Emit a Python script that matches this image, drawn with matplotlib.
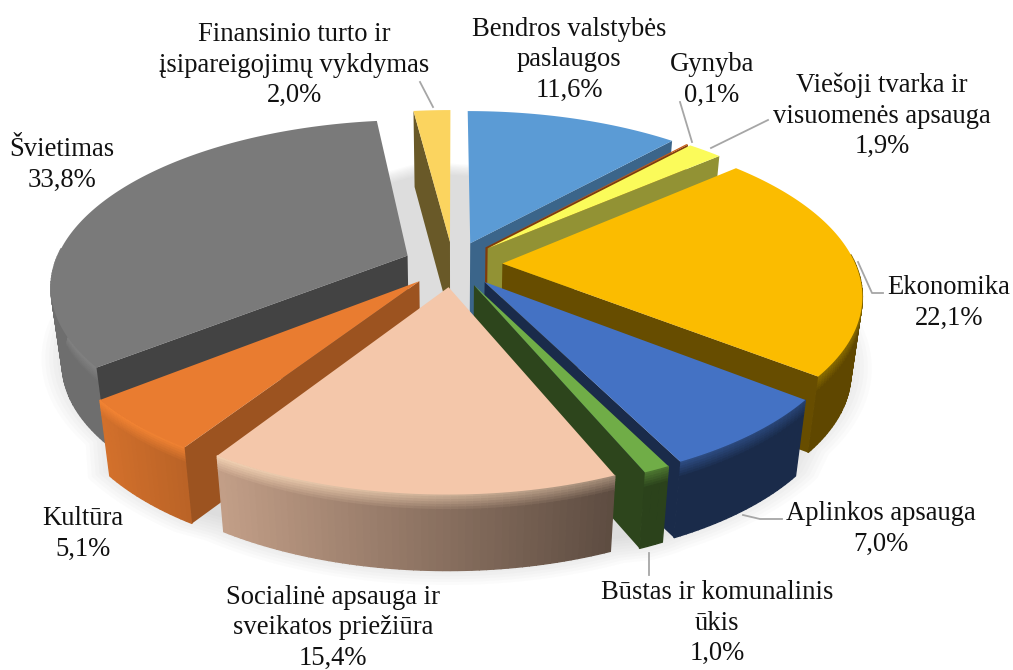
import numpy as np
import matplotlib
matplotlib.use('Agg')
import matplotlib.pyplot as plt
from matplotlib.colors import to_rgb
from matplotlib.patches import Polygon

labels = ['Bendros valstybės\npaslaugos', 'Gynyba', 'Viešoji tvarka ir\nvisuomenės apsauga', 'Ekonomika',
          'Aplinkos apsauga', 'Būstas ir komunalinis\nūkis', 'Socialinė apsauga ir\nsveikatos priežiūra',
          'Kultūra', 'Švietimas', 'Finansinio turto ir\nįsipareigojimų vykdymas']
values = [11.6, 0.1, 1.9, 22.1, 7.0, 1.0, 15.4, 5.1, 33.8, 2.0]
colors = ['#5b9bd5', '#c55a11', '#fbfb5a', '#fbbc00', '#4472c4', '#70ad47', '#f4c7aa', '#e97c30', '#7a7a7a', '#fbd45f']
wall_shade = [0.65, 0.65, 0.58, 0.41, 0.38, 0.40, 0.60, 0.67, 0.55, 0.42]
label_xy = [(569, 60), (712, 80), (882, 116), (949, 303), (881, 529), (717, 623), (333, 628), (83, 534), (62, 165), (294, 65)]
leaders = [[(420, 82), (433, 107)], [(680, 102), (692, 142)], [(768, 120), (711, 148)],
           [(858, 262), (872, 293), (883, 293)], [(743, 515), (760, 519), (782, 519)], [(649, 553), (649, 575)]]

cx, cy = 453, 264
rx, ry, persp, thick = 353, 162, 0.175, 76
taper = 0.028
explode = 0.14


def project(u, v, z=0.0):
    s = 1 / (1 + persp * v)
    return cx + rx * u * s * (1 - taper * z), cy - ry * v * s + thick * z


def shade(c, f):
    return tuple(min(1, x * f) for x in to_rgb(c))


def mix(c1, c2, w):
    return tuple((1 - w) * a + w * b for a, b in zip(c1, c2))


fig = plt.figure(figsize=(10.13, 6.7), dpi=100)
ax = fig.add_axes([0, 0, 1, 1])
ax.set_xlim(0, 1013)
ax.set_ylim(670, 0)
ax.axis('off')

edges = np.cumsum([0] + values) / 100 * 2 * np.pi

# soft floor shadow, following the outline of the exploded slices
for d in np.linspace(1.0, 1.1, 10):
    su, sv = [], []
    for i in range(len(values)):
        mid = (edges[i] + edges[i + 1]) / 2
        t = np.linspace(edges[i], edges[i + 1], 40)
        su.extend(explode * np.sin(mid) + d * np.sin(t))
        sv.extend(explode * np.cos(mid) + d * np.cos(t))
    xs, ys = project(0.96 * np.array(su), np.array(sv), 0.85)
    ax.fill(xs, ys, color='0.45', alpha=0.025, lw=0, zorder=1)

order = sorted(range(len(values)), key=lambda i: -np.cos((edges[i] + edges[i + 1]) / 2))
z = 2
rim = np.linspace(0, 0.2, 7)
for i in order:
    a0, a1 = edges[i], edges[i + 1]
    mid = (a0 + a1) / 2
    ou, ov = explode * np.sin(mid), explode * np.cos(mid)
    t = np.linspace(a0, a1, max(4, int((a1 - a0) * 60)))
    U, V = ou + np.sin(t), ov + np.cos(t)
    c = colors[i]
    # outer wall, lit from the left, with a soft light rim at the top
    for j in range(len(t) - 1):
        if np.cos((t[j] + t[j + 1]) / 2) > 0.05:
            continue
        um = np.sin((t[j] + t[j + 1]) / 2)
        f = np.clip(0.555 - 0.45 * um, 0.38, 0.9)
        base = shade(c, f)
        lit = 0.75 * np.clip(0.75 - 0.5 * um, 0.15, 1)
        zs = list(rim) + [1]
        for k in range(len(zs) - 1):
            w = lit * (1 - k / (len(zs) - 2)) if k < len(zs) - 2 else 0
            pts = [project(U[j], V[j], zs[k]), project(U[j + 1], V[j + 1], zs[k]),
                   project(U[j + 1], V[j + 1], zs[k + 1]), project(U[j], V[j], zs[k + 1])]
            col = mix(base, shade(c, 1.12), w)
            ax.add_patch(Polygon(pts, fc=col, ec=col, lw=1.0, zorder=z))
    z += 1
    # only the radial wall that faces the viewer
    for a, show in ((a0, a0 > np.pi), (a1, a1 < np.pi)):
        if show:
            eu, ev = ou + np.sin(a), ov + np.cos(a)
            pts = [project(ou, ov), project(eu, ev), project(eu, ev, 1), project(ou, ov, 1)]
            ax.add_patch(Polygon(pts, fc=shade(c, wall_shade[i]), ec='none', zorder=z))
            z += 1
    xs, ys = project(np.r_[ou, U], np.r_[ov, V])
    ax.fill(xs, ys, color=c, lw=0, zorder=z)
    z += 1

for pts in leaders:
    xs, ys = zip(*pts)
    ax.plot(xs, ys, color='#a6a6a6', lw=1.3, zorder=z)

for lab, v, (x, y) in zip(labels, values, label_xy):
    txt = f'{lab}\n{v:.1f}%'.replace('.', ',')
    ax.text(x, y, txt, ha='center', va='center', family='Liberation Serif', fontsize=19.2, color='#111111',
            zorder=z + 1, linespacing=1.28)

fig.savefig('out.png', dpi=100)
